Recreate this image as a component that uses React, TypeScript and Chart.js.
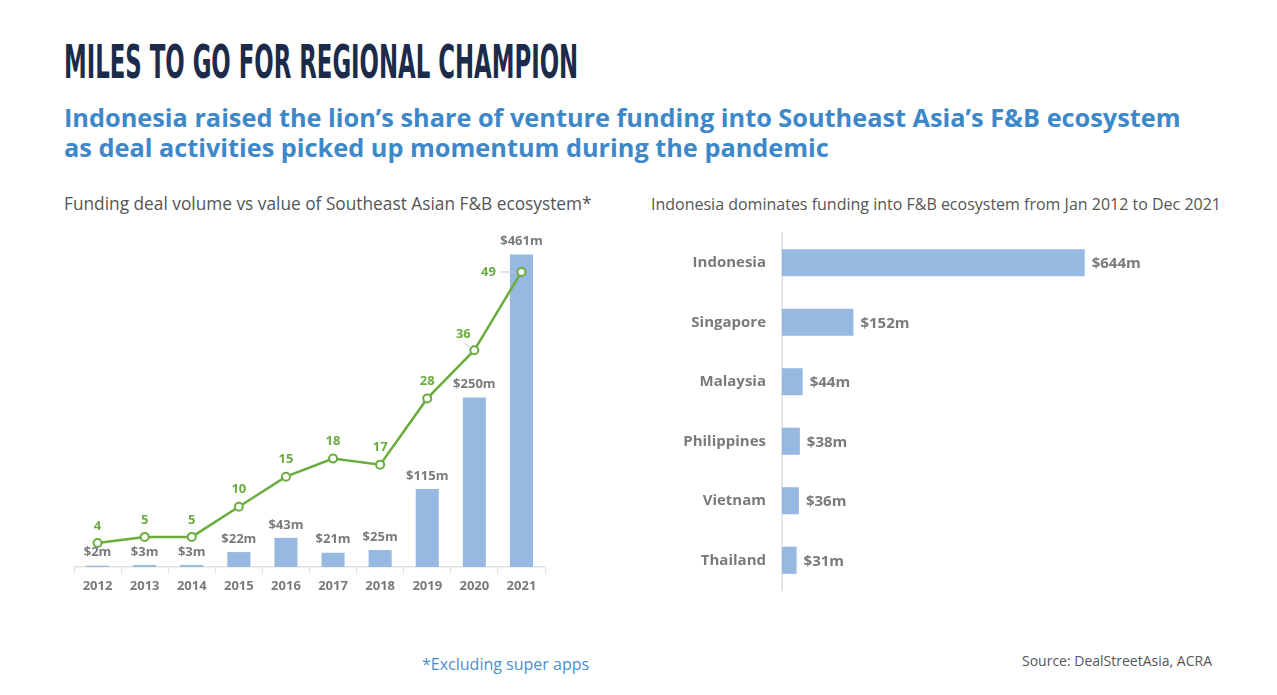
import React, { useEffect, useLayoutEffect, useRef } from "react";
import { Chart, registerables } from "chart.js";
Chart.register(...registerables);

const years = ["2012", "2013", "2014", "2015", "2016", "2017", "2018", "2019", "2020", "2021"];
const fundingValues = [2, 3, 3, 22, 43, 21, 25, 115, 250, 461];
const dealCounts = [4, 5, 5, 10, 15, 18, 17, 28, 36, 49];
const countries = ["Indonesia", "Singapore", "Malaysia", "Philippines", "Vietnam", "Thailand"];
const countryFunding = [644, 152, 44, 38, 36, 31];
const dealLabelAnchors = ["above", "above", "above", "above", "above", "above", "above", "above", "upleft", "left"];

const FONT = "'Open Sans', 'Noto Sans', sans-serif";
const BAR_BLUE = "#96b9e1";
const GREEN = "#6aad3f";
const GREY_TEXT = "#7a7a7a";

const leftLabelPlugin = {
  id: "leftLabels",
  afterDatasetsDraw(chart: any) {
    const ctx = chart.ctx;
    const barMeta = chart.getDatasetMeta(0);
    const lineMeta = chart.getDatasetMeta(1);
    ctx.save();
    ctx.textAlign = "center";
    ctx.textBaseline = "middle";
    ctx.font = `bold 13px ${FONT}`;
    ctx.fillStyle = GREY_TEXT;
    barMeta.data.forEach((el: any, i: number) => {
      ctx.fillText(`$${fundingValues[i]}m`, el.x, el.y - 13);
    });
    ctx.fillStyle = GREEN;
    lineMeta.data.forEach((el: any, i: number) => {
      const a = dealLabelAnchors[i];
      const t = String(dealCounts[i]);
      if (a === "left") {
        ctx.strokeStyle = "#c8c8c8";
        ctx.lineWidth = 1;
        ctx.beginPath();
        ctx.moveTo(el.x - 21, el.y);
        ctx.lineTo(el.x - 6, el.y);
        ctx.stroke();
        ctx.fillText(t, el.x - 33, el.y);
      } else if (a === "upleft") {
        ctx.strokeStyle = "#c8c8c8";
        ctx.lineWidth = 1;
        ctx.beginPath();
        ctx.moveTo(el.x - 10, el.y - 7);
        ctx.lineTo(el.x - 4, el.y - 3);
        ctx.stroke();
        ctx.fillText(t, el.x - 11, el.y - 16);
      } else {
        ctx.fillText(t, el.x, el.y - 17);
      }
    });
    ctx.restore();
  },
};

const rightLabelPlugin = {
  id: "rightLabels",
  afterDatasetsDraw(chart: any) {
    const ctx = chart.ctx;
    const meta = chart.getDatasetMeta(0);
    ctx.save();
    ctx.textAlign = "left";
    ctx.textBaseline = "middle";
    ctx.font = `bold 15px ${FONT}`;
    ctx.fillStyle = GREY_TEXT;
    meta.data.forEach((el: any, i: number) => {
      ctx.fillText(`$${countryFunding[i]}m`, el.x + 7, el.y + 1);
    });
    ctx.restore();
  },
};

function LeftChart() {
  const ref = useRef<HTMLCanvasElement>(null);
  useEffect(() => {
    const chart = new Chart(ref.current!, {
      type: "bar",
      data: {
        labels: years,
        datasets: [
          {
            type: "bar",
            data: fundingValues,
            backgroundColor: BAR_BLUE,
            yAxisID: "y",
            categoryPercentage: 1,
            barPercentage: 0.49,
            order: 2,
          },
          {
            type: "line",
            data: dealCounts,
            borderColor: GREEN,
            borderWidth: 2.5,
            pointRadius: 4,
            pointBorderWidth: 2,
            pointBackgroundColor: "#ffffff",
            pointBorderColor: GREEN,
            yAxisID: "y1",
            tension: 0,
            order: 1,
          } as any,
        ],
      },
      options: {
        responsive: false,
        animation: false,
        devicePixelRatio: 1,
        layout: { padding: { top: 28, bottom: 13, left: 14, right: 15 } },
        plugins: { legend: { display: false }, tooltip: { enabled: false } },
        scales: {
          x: {
            afterFit: (s: any) => {
              s.height = 40;
            },
            grid: {
              display: true,
              drawOnChartArea: false,
              drawTicks: true,
              tickLength: 7,
              color: "#e2e2e2",
              offset: true,
            },
            border: { display: true, color: "#e2e2e2", width: 1.5 },
            ticks: {
              color: GREY_TEXT,
              font: { family: FONT, size: 13, weight: "bold" },
              padding: 4,
              maxRotation: 0,
            },
          },
          y: { display: false, min: 0, max: 500 },
          y1: { display: false, min: 0, max: 56.3 },
        },
      },
      plugins: [leftLabelPlugin],
    });
    return () => chart.destroy();
  }, []);
  return (
    <canvas
      ref={ref}
      width={500}
      height={420}
      style={{ position: "absolute", left: 60, top: 200, width: 500, height: 420 }}
    />
  );
}

function RightChart() {
  const ref = useRef<HTMLCanvasElement>(null);
  useEffect(() => {
    const chart = new Chart(ref.current!, {
      type: "bar",
      data: {
        labels: countries,
        datasets: [
          {
            data: countryFunding,
            backgroundColor: BAR_BLUE,
            categoryPercentage: 1,
            barPercentage: 0.455,
          },
        ],
      },
      options: {
        indexAxis: "y",
        responsive: false,
        animation: false,
        devicePixelRatio: 1,
        layout: { padding: { top: 8, bottom: 15, left: 0, right: 55 } },
        plugins: { legend: { display: false }, tooltip: { enabled: false } },
        scales: {
          x: { display: false, min: 0, max: 900 },
          y: {
            afterFit: (s: any) => {
              s.width = 142;
              s.paddingTop = 0;
              s.paddingBottom = 0;
            },
            grid: { display: false, drawTicks: false },
            border: { display: true, color: "#e6e6e6", width: 2 },
            ticks: {
              color: GREY_TEXT,
              font: { family: FONT, size: 15, weight: "bold" },
              padding: 16,
            },
          },
        },
      },
      plugins: [rightLabelPlugin],
    });
    return () => chart.destroy();
  }, []);
  return (
    <canvas
      ref={ref}
      width={620}
      height={380}
      style={{ position: "absolute", left: 640, top: 225, width: 620, height: 380 }}
    />
  );
}

function FitTitle() {
  const ref = useRef<HTMLSpanElement>(null);
  useLayoutEffect(() => {
    const el = ref.current!;
    const w = el.offsetWidth;
    if (w > 0) el.style.transform = `scaleX(${514 / w})`;
  }, []);
  return (
    <span
      ref={ref}
      style={{
        position: "absolute",
        left: 64,
        top: 39,
        display: "inline-block",
        whiteSpace: "nowrap",
        transformOrigin: "0 0",
        fontFamily: "'Liberation Sans Narrow', 'DejaVu Sans Condensed', sans-serif",
        fontWeight: "bold",
        fontSize: 46,
        lineHeight: "46px",
        color: "#1d2b4b",
      }}
    >
      MILES TO GO FOR REGIONAL CHAMPION
    </span>
  );
}

export default function App() {
  return (
    <div
      style={{
        position: "absolute",
        left: 0,
        top: 0,
        width: 1277,
        height: 695,
        background: "#ffffff",
        fontFamily: FONT,
        overflow: "hidden",
      }}
    >
      <FitTitle />
      <div
        style={{
          position: "absolute",
          left: 64,
          top: 102,
          fontWeight: "bold",
          fontSize: 25.3,
          lineHeight: "30px",
          color: "#3d88c9",
          whiteSpace: "nowrap",
        }}
      >
        Indonesia raised the lion’s share of venture funding into Southeast Asia’s F&amp;B ecosystem
        <br />
        as deal activities picked up momentum during the pandemic
      </div>
      <div
        style={{
          position: "absolute",
          left: 64,
          top: 194,
          fontSize: 17.3,
          lineHeight: "20px",
          color: "#555555",
          whiteSpace: "nowrap",
        }}
      >
        Funding deal volume vs value of Southeast Asian F&amp;B ecosystem*
      </div>
      <div
        style={{
          position: "absolute",
          left: 651,
          top: 194,
          fontSize: 16,
          lineHeight: "20px",
          color: "#555555",
          whiteSpace: "nowrap",
        }}
      >
        Indonesia dominates funding into F&amp;B ecosystem from Jan 2012 to Dec 2021
      </div>
      <LeftChart />
      <RightChart />
      <div
        style={{
          position: "absolute",
          left: 422,
          top: 654,
          fontSize: 16,
          lineHeight: "20px",
          color: "#4a8fd0",
          whiteSpace: "nowrap",
        }}
      >
        *Excluding super apps
      </div>
      <div
        style={{
          position: "absolute",
          left: 1022,
          top: 652,
          fontSize: 14,
          lineHeight: "18px",
          color: "#555555",
          whiteSpace: "nowrap",
        }}
      >
        Source: DealStreetAsia, ACRA
      </div>
    </div>
  );
}
